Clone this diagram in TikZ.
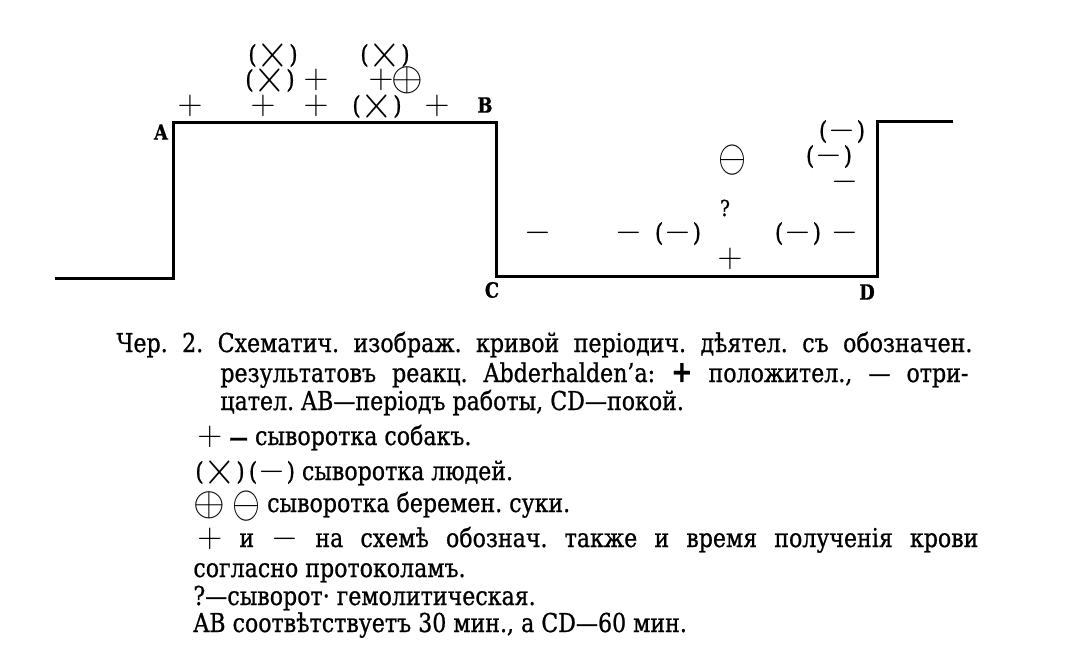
\documentclass[tikz,border=0pt]{standalone}
\usepackage[no-math]{fontspec}
\usepackage{graphicx}
\setmainfont{DejaVu Serif}[FakeStretch=0.85,FakeBold=0.8]
\frenchspacing
\newcommand{\symfs}{\fontsize{12.5}{12.5}\selectfont}
\newcommand{\sgnP}{\mbox{\fontsize{17}{17}\selectfont$+$}}
\newcommand{\sgnM}{\mbox{\fontsize{17}{17}\selectfont$-$}}
\newcommand{\sgnX}{\mbox{\symfs(\raisebox{-.16em}{\scalebox{1.75}[2]{$\times$}})}}
\newcommand{\sgnMM}{\mbox{\symfs(\kern.05em\sgnM\kern.05em)}}
\newcommand{\sgnOP}{\mbox{\symfs\raisebox{-.15em}{\scalebox{1.7}{$\oplus$}}}}
\newcommand{\sgnOM}{\mbox{\symfs\raisebox{-.2em}{\scalebox{1.5}[1.9]{$\ominus$}}}}
\begin{document}
\begin{tikzpicture}[x=0.5pt,y=-0.5pt,
    curve/.style={line width=1.5pt},
    sym/.style={inner sep=0pt},
    pt/.style={inner sep=0pt,font=\bfseries\fontsize{10.5}{10.5}\selectfont},
    capline/.style={anchor=base west,inner sep=0pt,font=\fontsize{13}{13}\selectfont}]
    \useasboundingbox[fill=white] (0,0) rectangle (1083,670);
    \coordinate (s) at (55,278);
    \coordinate (a0) at (173,278);
    \coordinate (a) at (173,122);
    \coordinate (b) at (496,122);
    \coordinate (c) at (496,276);
    \coordinate (d) at (877,276);
    \coordinate (d1) at (877,121);
    \coordinate (e) at (953,121);
    \draw[curve] (s) -- (a0) -- (a) -- (b) -- (c) -- (d) -- (d1) -- (e);
    \node[pt] (lA) at (161,132) {A};
    \node[pt] (lB) at (485,105) {B};
    \node[pt] (lC) at (492,290) {C};
    \node[pt] (lD) at (867,292) {D};
    \foreach \x/\s [count=\i] in {273/\sgnX,385/\sgnX}
      \node[sym] (r\i) at (\x,55) {\s};
    \foreach \x/\s [count=\i] in {270/\sgnX,316/\sgnP,381/\sgnP,407/\sgnOP}
      \node[sym] (m\i) at (\x,80) {\s};
    \foreach \x/\s [count=\i] in {190/\sgnP,263/\sgnP,316/\sgnP,377/\sgnX,437/\sgnP}
      \node[sym] (t\i) at (\x,106) {\s};
    \node[sym] (q1) at (842,131) {\sgnMM};
    \node[sym] (q2) at (732,160) {\sgnOM};
    \node[sym] (q3) at (829,156) {\sgnMM};
    \node[sym] (q4) at (845,182) {\sgnM};
    \node[sym,font=\fontsize{11}{11}\selectfont] (q5) at (725,208) {?};
    \foreach \x/\s [count=\i] in {538/\sgnM,629/\sgnM,678/\sgnMM,798/\sgnMM,845/\sgnM}
      \node[sym] (n\i) at (\x,233) {\s};
    \node[sym] (q6) at (730,259) {\sgnP};
    \node[capline] (cap1) at (116,352) {\makebox[428pt][s]{Чер. 2. Схематич. изображ. кривой періодич. дѣятел. съ обозначен.}};
    \node[capline] (cap2) at (220,382) {\makebox[374pt][s]{результатовъ реакц. Abderhalden’a: {\bfseries\fontsize{15}{15}\selectfont+} положител., — отри-}};
    \node[capline] (cap3) at (220,410) {цател. AB—періодъ работы, CD—покой.};
    \node[capline] (cap4) at (197,445) {\sgnP\ {\bfseries\fontsize{11}{11}\selectfont—} сыворотка собакъ.};
    \node[capline] (cap5) at (195,480) {\sgnX\,\sgnMM\ сыворотка людей.};
    \node[capline] (cap6) at (193,512) {\sgnOP\ \sgnOM\ сыворотка беремен. суки.};
    \node[capline] (cap7) at (197,547) {\makebox[390.5pt][s]{\sgnP\ и \sgnM\ на схемѣ обознач. также и время полученія крови}};
    \node[capline] (cap8) at (193,577) {согласно протоколамъ.};
    \node[capline] (cap9) at (193,605) {?—сыворот· гемолитическая.};
    \node[capline] (cap10) at (193,632) {AB соотвѣтствуетъ 30 мин., а CD—60 мин.};
\end{tikzpicture}
\end{document}
